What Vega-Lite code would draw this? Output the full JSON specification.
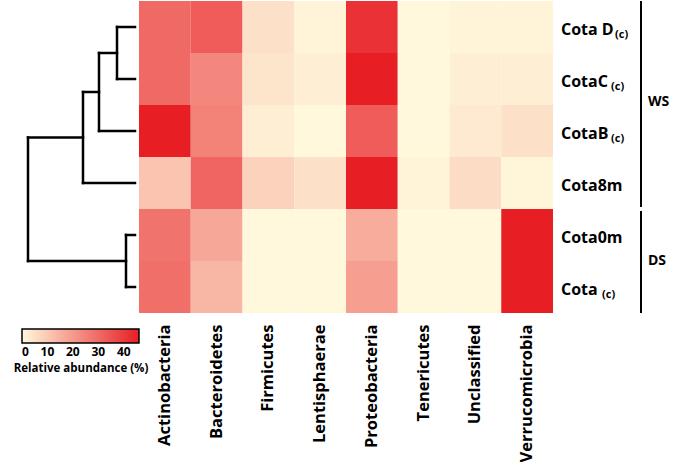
{
  "$schema": "https://vega.github.io/schema/vega-lite/v6.json",
  "padding": 0,
  "spacing": 0,
  "background": "white",
  "config": {"view": {"stroke": null}, "font": "Open Sans", "concat": {"spacing": 0}},
  "datasets": {
    "abund": [
      {"sample": "Cota D", "phylum": "Actinobacteria", "value": 30},
      {"sample": "Cota D", "phylum": "Bacteroidetes", "value": 33},
      {"sample": "Cota D", "phylum": "Firmicutes", "value": 5},
      {"sample": "Cota D", "phylum": "Lentisphaerae", "value": 1},
      {"sample": "Cota D", "phylum": "Proteobacteria", "value": 42},
      {"sample": "Cota D", "phylum": "Tenericutes", "value": 0},
      {"sample": "Cota D", "phylum": "Unclassified", "value": 1},
      {"sample": "Cota D", "phylum": "Verrucomicrobia", "value": 1},
      {"sample": "CotaC", "phylum": "Actinobacteria", "value": 30},
      {"sample": "CotaC", "phylum": "Bacteroidetes", "value": 24},
      {"sample": "CotaC", "phylum": "Firmicutes", "value": 4},
      {"sample": "CotaC", "phylum": "Lentisphaerae", "value": 2},
      {"sample": "CotaC", "phylum": "Proteobacteria", "value": 46},
      {"sample": "CotaC", "phylum": "Tenericutes", "value": 0},
      {"sample": "CotaC", "phylum": "Unclassified", "value": 2},
      {"sample": "CotaC", "phylum": "Verrucomicrobia", "value": 2},
      {"sample": "CotaB", "phylum": "Actinobacteria", "value": 46},
      {"sample": "CotaB", "phylum": "Bacteroidetes", "value": 25},
      {"sample": "CotaB", "phylum": "Firmicutes", "value": 2},
      {"sample": "CotaB", "phylum": "Lentisphaerae", "value": 0},
      {"sample": "CotaB", "phylum": "Proteobacteria", "value": 33},
      {"sample": "CotaB", "phylum": "Tenericutes", "value": 0},
      {"sample": "CotaB", "phylum": "Unclassified", "value": 3},
      {"sample": "CotaB", "phylum": "Verrucomicrobia", "value": 5},
      {"sample": "Cota8m", "phylum": "Actinobacteria", "value": 11},
      {"sample": "Cota8m", "phylum": "Bacteroidetes", "value": 31},
      {"sample": "Cota8m", "phylum": "Firmicutes", "value": 8},
      {"sample": "Cota8m", "phylum": "Lentisphaerae", "value": 5},
      {"sample": "Cota8m", "phylum": "Proteobacteria", "value": 46},
      {"sample": "Cota8m", "phylum": "Tenericutes", "value": 1},
      {"sample": "Cota8m", "phylum": "Unclassified", "value": 6},
      {"sample": "Cota8m", "phylum": "Verrucomicrobia", "value": 0.5},
      {"sample": "Cota0m", "phylum": "Actinobacteria", "value": 28},
      {"sample": "Cota0m", "phylum": "Bacteroidetes", "value": 17},
      {"sample": "Cota0m", "phylum": "Firmicutes", "value": 0},
      {"sample": "Cota0m", "phylum": "Lentisphaerae", "value": 0},
      {"sample": "Cota0m", "phylum": "Proteobacteria", "value": 16},
      {"sample": "Cota0m", "phylum": "Tenericutes", "value": 0},
      {"sample": "Cota0m", "phylum": "Unclassified", "value": 0},
      {"sample": "Cota0m", "phylum": "Verrucomicrobia", "value": 46},
      {"sample": "Cota", "phylum": "Actinobacteria", "value": 29},
      {"sample": "Cota", "phylum": "Bacteroidetes", "value": 14},
      {"sample": "Cota", "phylum": "Firmicutes", "value": 0},
      {"sample": "Cota", "phylum": "Lentisphaerae", "value": 0},
      {"sample": "Cota", "phylum": "Proteobacteria", "value": 19},
      {"sample": "Cota", "phylum": "Tenericutes", "value": 0},
      {"sample": "Cota", "phylum": "Unclassified", "value": 0},
      {"sample": "Cota", "phylum": "Verrucomicrobia", "value": 46}
    ],
    "dendro": [
      {"d1": 0, "d2": 0.18, "y1": 0.5, "y2": 0.5},
      {"d1": 0, "d2": 0.18, "y1": 1.5, "y2": 1.5},
      {"d1": 0.18, "d2": 0.18, "y1": 0.5, "y2": 1.5},
      {"d1": 0.18, "d2": 0.36, "y1": 1.0, "y2": 1.0},
      {"d1": 0, "d2": 0.36, "y1": 2.5, "y2": 2.5},
      {"d1": 0.36, "d2": 0.36, "y1": 1.0, "y2": 2.5},
      {"d1": 0.36, "d2": 0.52, "y1": 1.75, "y2": 1.75},
      {"d1": 0, "d2": 0.52, "y1": 3.5, "y2": 3.5},
      {"d1": 0.52, "d2": 0.52, "y1": 1.75, "y2": 3.5},
      {"d1": 0.52, "d2": 1.07, "y1": 2.625, "y2": 2.625},
      {"d1": 0, "d2": 0.09, "y1": 4.5, "y2": 4.5},
      {"d1": 0, "d2": 0.09, "y1": 5.5, "y2": 5.5},
      {"d1": 0.09, "d2": 0.09, "y1": 4.5, "y2": 5.5},
      {"d1": 0.09, "d2": 1.07, "y1": 5.0, "y2": 5.0},
      {"d1": 1.07, "d2": 1.07, "y1": 2.625, "y2": 5.0}
    ],
    "samples": [
      {"sample": "Cota D", "sub": "(c)"},
      {"sample": "CotaC", "sub": "(c)"},
      {"sample": "CotaB", "sub": "(c)"},
      {"sample": "Cota8m", "sub": ""},
      {"sample": "Cota0m", "sub": ""},
      {"sample": "Cota", "sub": "(c)"}
    ],
    "groups": [
      {"group": "WS", "start": 0, "end": 3.96, "center": 1.95},
      {"group": "DS", "start": 4.04, "end": 6, "center": 5}
    ]
  },
  "hconcat": [
    {
      "width": 139,
      "height": 312,
      "data": {"name": "dendro"},
      "mark": {"type": "rule", "color": "black", "strokeWidth": 2.5, "strokeCap": "square"},
      "encoding": {
        "x": {"field": "d1", "type": "quantitative", "scale": {"domain": [1.35, -0.04], "nice": false, "zero": false}, "axis": null},
        "x2": {"field": "d2"},
        "y": {"field": "y1", "type": "quantitative", "scale": {"domain": [0, 6], "reverse": true, "nice": false, "zero": false}, "axis": null},
        "y2": {"field": "y2"}
      }
    },
    {
      "width": 414,
      "height": 312,
      "data": {"name": "abund"},
      "mark": {"type": "rect"},
      "encoding": {
        "x": {
          "field": "phylum", "type": "nominal",
          "sort": ["Actinobacteria", "Bacteroidetes", "Firmicutes", "Lentisphaerae", "Proteobacteria", "Tenericutes", "Unclassified", "Verrucomicrobia"],
          "scale": {"paddingInner": 0, "paddingOuter": 0},
          "axis": {"orient": "bottom", "title": null, "ticks": false, "domain": false, "labelAngle": -90, "labelPadding": 11, "labelFont": "Open Sans", "labelFontSize": 16.5, "labelFontWeight": "bold", "labelColor": "black"}
        },
        "y": {
          "field": "sample", "type": "nominal",
          "sort": ["Cota D", "CotaC", "CotaB", "Cota8m", "Cota0m", "Cota"],
          "scale": {"paddingInner": 0, "paddingOuter": 0},
          "axis": null
        },
        "color": {
          "field": "value", "type": "quantitative",
          "scale": {"domain": [0, 46], "range": ["#fff8dc", "#e81e25"], "interpolate": "rgb", "nice": false},
          "legend": {
            "orient": "none", "legendX": 14, "legendY": 328, "direction": "horizontal",
            "gradientLength": 117, "gradientThickness": 14, "gradientStrokeColor": "black", "gradientStrokeWidth": 1.5,
            "values": [0, 10, 20, 30, 40], "labelFontSize": 12, "labelFontWeight": "bold", "labelColor": "black", "labelOffset": 4,
            "title": "Relative abundance (%)", "titleOrient": "bottom", "titleAnchor": "middle", "titleFontSize": 11.5, "titleFontWeight": "bold", "titleColor": "black", "titlePadding": 5
          }
        }
      }
    },
    {
      "width": 122,
      "height": 312,
      "layer": [
        {
          "data": {"name": "samples"},
          "mark": {"type": "text", "align": "left", "baseline": "middle", "x": 8, "dy": 3, "fontSize": 16, "fontWeight": "bold", "color": "black"},
          "encoding": {
            "y": {"field": "sample", "type": "nominal", "scale": {"domain": ["Cota D", "CotaC", "CotaB", "Cota8m", "Cota0m", "Cota"], "paddingInner": 0, "paddingOuter": 0}, "axis": null},
            "text": {"field": "sample"}
          }
        },
        {
          "data": {"name": "samples"},
          "transform": [{"filter": "datum.sample == 'Cota D'"}],
          "mark": {"type": "text", "align": "left", "baseline": "middle", "x": 62, "dy": 8, "fontSize": 11, "fontWeight": "bold", "color": "black"},
          "encoding": {
            "y": {"field": "sample", "type": "nominal", "scale": {"domain": ["Cota D", "CotaC", "CotaB", "Cota8m", "Cota0m", "Cota"], "paddingInner": 0, "paddingOuter": 0}, "axis": null},
            "text": {"field": "sub"}
          }
        },
        {
          "data": {"name": "samples"},
          "transform": [{"filter": "datum.sample == 'CotaC' || datum.sample == 'CotaB'"}],
          "mark": {"type": "text", "align": "left", "baseline": "middle", "x": 58, "dy": 8, "fontSize": 11, "fontWeight": "bold", "color": "black"},
          "encoding": {
            "y": {"field": "sample", "type": "nominal", "scale": {"domain": ["Cota D", "CotaC", "CotaB", "Cota8m", "Cota0m", "Cota"], "paddingInner": 0, "paddingOuter": 0}, "axis": null},
            "text": {"field": "sub"}
          }
        },
        {
          "data": {"name": "samples"},
          "transform": [{"filter": "datum.sample == 'Cota'"}],
          "mark": {"type": "text", "align": "left", "baseline": "middle", "x": 49, "dy": 8, "fontSize": 11, "fontWeight": "bold", "color": "black"},
          "encoding": {
            "y": {"field": "sample", "type": "nominal", "scale": {"domain": ["Cota D", "CotaC", "CotaB", "Cota8m", "Cota0m", "Cota"], "paddingInner": 0, "paddingOuter": 0}, "axis": null},
            "text": {"field": "sub"}
          }
        },
        {
          "data": {"name": "groups"},
          "layer": [
            {
              "mark": {"type": "rule", "color": "black", "strokeWidth": 2, "x": 88},
              "encoding": {
                "y": {"field": "start", "type": "quantitative", "scale": {"domain": [0, 6], "reverse": true, "nice": false, "zero": false}, "axis": null},
                "y2": {"field": "end"}
              }
            },
            {
              "mark": {"type": "text", "align": "left", "baseline": "middle", "x": 95, "fontSize": 14, "fontWeight": "bold", "color": "black"},
              "encoding": {
                "y": {"field": "center", "type": "quantitative", "scale": {"domain": [0, 6], "reverse": true, "nice": false, "zero": false}, "axis": null},
                "text": {"field": "group"}
              }
            }
          ]
        }
      ],
      "resolve": {"scale": {"y": "independent"}}
    }
  ]
}
